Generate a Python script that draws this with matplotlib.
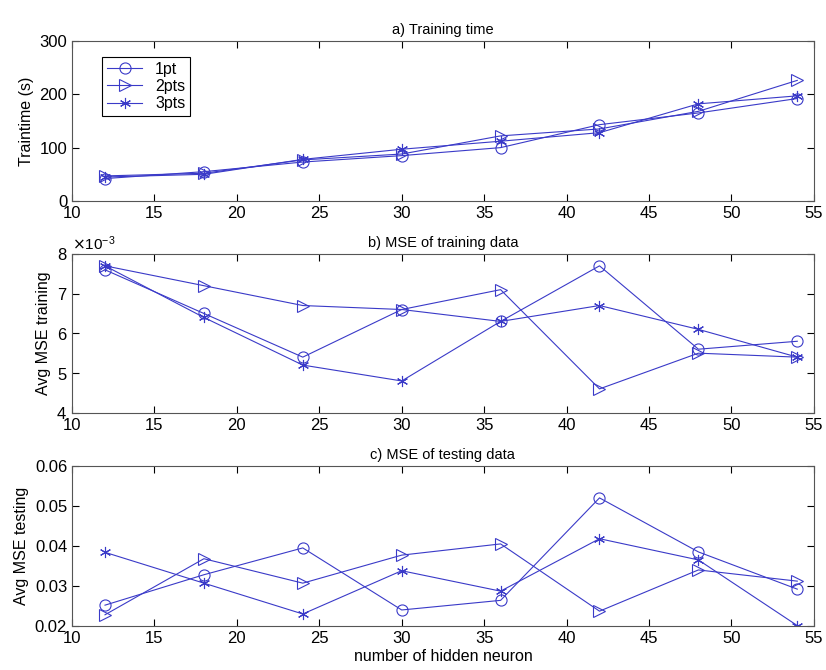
import matplotlib as mpl
mpl.use("Agg")
import matplotlib.pyplot as plt
from matplotlib.ticker import ScalarFormatter

plt.rcParams['font.family'] = ['Liberation Sans', 'DejaVu Sans']

neurons = [12, 18, 24, 30, 36, 42, 48, 54]
series = ["1pt", "2pts", "3pts"]
# circle, right triangle, matlab-style asterisk
markers = ["o", ">", (6, 2, 0)]
msizes = [8, 8, 8]

traintime = {
    "1pt": [42, 55, 73, 85, 100, 143, 165, 192],
    "2pts": [47, 52, 77, 88, 122, 135, 168, 226],
    "3pts": [45, 50, 78, 97, 112, 128, 182, 197],
}
mse_train = {
    "1pt": [7.6e-3, 6.5e-3, 5.4e-3, 6.6e-3, 6.3e-3, 7.7e-3, 5.6e-3, 5.8e-3],
    "2pts": [7.7e-3, 7.2e-3, 6.7e-3, 6.6e-3, 7.1e-3, 4.6e-3, 5.5e-3, 5.4e-3],
    "3pts": [7.7e-3, 6.4e-3, 5.2e-3, 4.8e-3, 6.3e-3, 6.7e-3, 6.1e-3, 5.4e-3],
}
mse_test = {
    "1pt": [0.0252, 0.0328, 0.0395, 0.0240, 0.0264, 0.0520, 0.0385, 0.0292],
    "2pts": [0.0228, 0.0368, 0.0307, 0.0377, 0.0405, 0.0237, 0.0340, 0.0312],
    "3pts": [0.0384, 0.0307, 0.0230, 0.0338, 0.0287, 0.0418, 0.0365, 0.0201],
}

color = "#3a3ac8"
fig = plt.figure(figsize=(8.26, 6.70), dpi=100)
ax1 = fig.add_axes([0.0872, 0.700, 0.898, 0.239])
ax2 = fig.add_axes([0.0872, 0.384, 0.898, 0.237])
ax3 = fig.add_axes([0.0872, 0.0657, 0.898, 0.239])

panels = [
    (ax1, traintime, "a) Training time", "Traintime (s)", (0, 300), [0, 100, 200, 300]),
    (ax2, mse_train, "b) MSE of training data", "Avg MSE training", (4e-3, 8e-3),
     [4e-3, 5e-3, 6e-3, 7e-3, 8e-3]),
    (ax3, mse_test, "c) MSE of testing data", "Avg MSE testing", (0.02, 0.06),
     [0.02, 0.03, 0.04, 0.05, 0.06]),
]

for ax, data, title, ylabel, ylim, yticks in panels:
    for s, m, ms in zip(series, markers, msizes):
        ax.plot(neurons, data[s], color=color, lw=0.8, marker=m, ms=ms,
                mfc="none", mec=color, mew=0.8, label=s)
    ax.set_xlim(10, 55)
    ax.set_ylim(*ylim)
    ax.set_yticks(yticks)
    ax.set_xticks(range(10, 56, 5))
    ax.set_title(title, fontsize=10.5, pad=5)
    ax.set_ylabel(ylabel, fontsize=11.5)
    ax.tick_params(direction="in", labelsize=12, top=True, right=True, length=5)
    for sp in ax.spines.values():
        sp.set_color("#555555")
        sp.set_linewidth(0.8)

ax3.yaxis.set_major_formatter(plt.FormatStrFormatter("%.2f"))
fmt = ScalarFormatter(useMathText=True)
fmt.set_powerlimits((-3, -3))
ax2.yaxis.set_major_formatter(fmt)
ax2.yaxis.get_offset_text().set_fontsize(11)
ax3.set_xlabel("number of hidden neuron", fontsize=11.5, labelpad=2)

leg = ax1.legend(loc="upper left", bbox_to_anchor=(0.03, 0.95), fontsize=11.5,
                 fancybox=False, edgecolor="black", framealpha=1,
                 handlelength=2.2, borderpad=0.3, labelspacing=0.15)
leg.get_frame().set_linewidth(0.8)

plt.savefig("out.png")
plt.close("all")
